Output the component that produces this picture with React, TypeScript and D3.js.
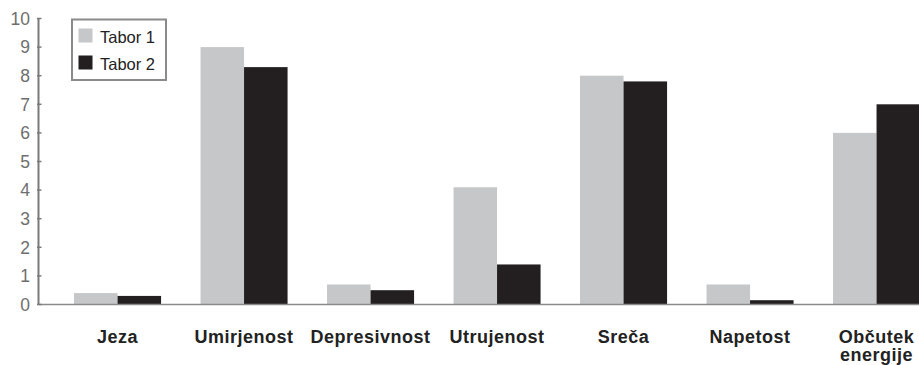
import React from "react";
import * as d3 from "d3";

// Emotion categories along the x axis (one label may wrap to two lines)
const categories: string[][] = [
  ["Jeza"],
  ["Umirjenost"],
  ["Depresivnost"],
  ["Utrujenost"],
  ["Sreča"],
  ["Napetost"],
  ["Občutek", "energije"],
];

const seriesNames = ["Tabor 1", "Tabor 2"];
const tabor1 = [0.4, 9.0, 0.7, 4.1, 8.0, 0.7, 6.0];
const tabor2 = [0.3, 8.3, 0.5, 1.4, 7.8, 0.15, 7.0];
const yTicks = [0, 1, 2, 3, 4, 5, 6, 7, 8, 9, 10];

const W = 919;
const H = 365;
const colors = ["#c6c7c9", "#231f20"];

export default function App() {
  const keys = categories.map((c) => c.join(" "));
  const x = d3
    .scaleBand<string>()
    .domain(keys)
    .range([54.3, 939.8])
    .paddingInner(0.312)
    .paddingOuter(0.156);
  const xs = d3.scaleBand<number>().domain([0, 1]).range([0, x.bandwidth()]);
  const y = d3.scaleLinear().domain([0, 10]).range([304.5, 18.5]);
  const series = [tabor1, tabor2];
  const axisX = 38.5;

  return (
    <svg
      width={W}
      height={H}
      style={{ position: "absolute", left: 0, top: 0, background: "#fff" }}
      fontFamily="'Liberation Sans', Arial, sans-serif"
    >
      {/* bars */}
      {keys.map((k, i) => (
        <g key={k}>
          {series.map((s, j) => (
            <rect
              key={j}
              x={(x(k) as number) + (xs(j) as number)}
              y={y(s[i])}
              width={xs.bandwidth()}
              height={y(0) - y(s[i])}
              fill={colors[j]}
            />
          ))}
        </g>
      ))}

      {/* baseline */}
      <line x1={axisX} x2={W} y1={y(0)} y2={y(0)} stroke="#8a8a8a" strokeWidth={1.5} />

      {/* y axis */}
      <line x1={axisX} x2={axisX} y1={y(10)} y2={y(0)} stroke="#7a7a7a" strokeWidth={2} />
      {yTicks.map((t) => (
        <g key={t}>
          <line x1={axisX - 1.5} x2={axisX + 3} y1={y(t)} y2={y(t)} stroke="#7a7a7a" strokeWidth={1.5} />
          <text
            x={30}
            y={y(t)}
            dy="0.36em"
            textAnchor="end"
            fontSize={17.5}
            fill="#6e6e6e"
          >
            {t}
          </text>
        </g>
      ))}

      {/* category labels */}
      {categories.map((lines, i) => {
        const cx = (x(keys[i]) as number) + x.bandwidth() / 2;
        return (
          <text
            key={keys[i]}
            x={cx}
            y={342.5}
            textAnchor="middle"
            fontSize={18}
            fontWeight="bold"
            letterSpacing={0.5}
            fill="#222"
          >
            {lines.map((l, li) => (
              <tspan key={li} x={cx} dy={li === 0 ? 0 : 18.5}>
                {l}
              </tspan>
            ))}
          </text>
        );
      })}

      {/* legend */}
      <rect x={72} y={19.5} width={94} height={60.5} fill="#fff" stroke="#8a8a8a" strokeWidth={2} />
      {seriesNames.map((n, j) => (
        <g key={n}>
          <rect x={78.5} y={28.5 + j * 27} width={14} height={14} fill={colors[j]} />
          <text x={100} y={43.3 + j * 27} fontSize={16.5} fill="#222">
            {n}
          </text>
        </g>
      ))}
    </svg>
  );
}
